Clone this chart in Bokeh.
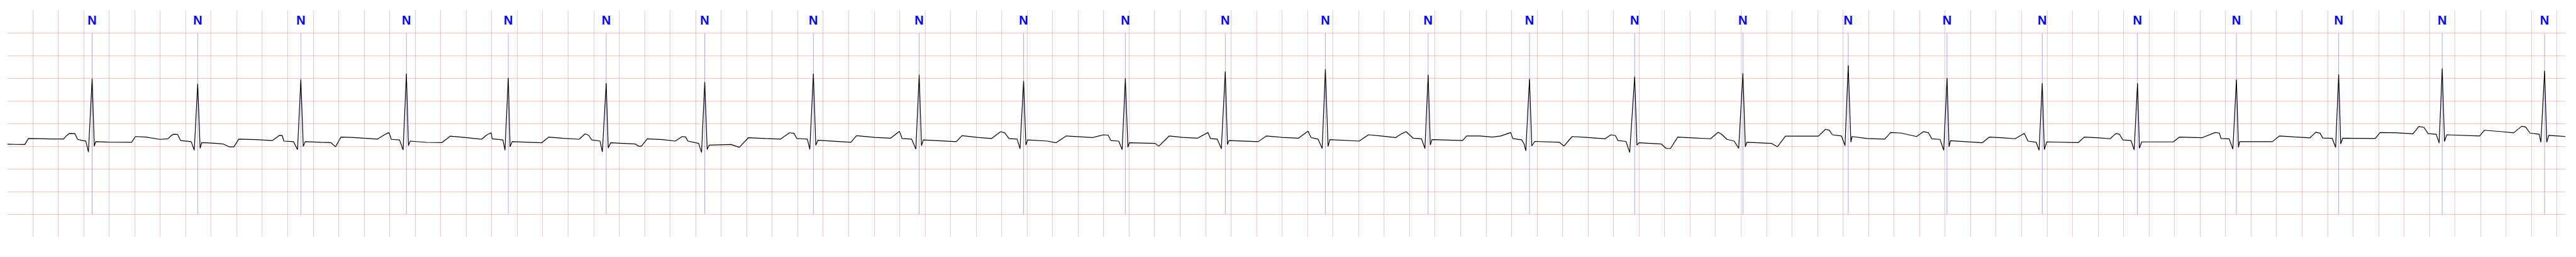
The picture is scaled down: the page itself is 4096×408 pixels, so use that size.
from bokeh.plotting import figure
from bokeh.models import Range1d, Grid, FixedTicker
from bokeh.core.properties import value
from bokeh.embed import file_html
from bokeh.resources import INLINE

# ECG trace (time in s, amplitude in mV), vertices
ecg_t = [
    0.000, 0.069, 0.138, 0.166, 0.257, 0.337, 0.442, 0.466, 0.488, 0.531, 0.552, 0.590, 0.616, 0.637, 0.666, 0.683, 0.694,
    0.794, 0.975, 1.006, 1.089, 1.196, 1.260, 1.287, 1.303, 1.336, 1.360, 1.443, 1.467, 1.494, 1.513, 1.526,
    1.625, 1.692, 1.741, 1.778, 1.816, 1.947, 2.079, 2.114, 2.135, 2.157, 2.170, 2.245, 2.277, 2.303, 2.322, 2.337,
    2.457, 2.538, 2.575, 2.618, 2.699, 2.833, 2.903, 2.954, 2.994, 3.013, 3.077, 3.105, 3.131, 3.147, 3.160,
    3.289, 3.410, 3.474, 3.584, 3.721, 3.759, 3.795, 3.804, 3.888, 3.904, 3.930, 3.944, 3.960,
    4.191, 4.247, 4.363, 4.486, 4.532, 4.559, 4.585, 4.650, 4.668, 4.698, 4.714, 4.733,
    4.926, 4.953, 4.974, 5.020, 5.141, 5.240, 5.294, 5.321, 5.339, 5.423, 5.446, 5.471, 5.490, 5.506,
    5.678, 5.742, 5.814, 5.946, 6.064, 6.136, 6.171, 6.193, 6.276, 6.295, 6.323, 6.342, 6.358,
    6.617, 6.662, 6.805, 6.928, 6.998, 7.019, 7.094, 7.127, 7.153, 7.171, 7.186,
    7.443, 7.489, 7.610, 7.720, 7.792, 7.824, 7.857, 7.921, 7.944, 7.972, 7.990, 8.004,
    8.161, 8.225, 8.307, 8.511, 8.562, 8.600, 8.635, 8.656, 8.718, 8.745, 8.770, 8.790, 8.801,
    9.004, 9.032, 9.115, 9.220, 9.335, 9.418, 9.437, 9.491, 9.523, 9.554, 9.571, 9.583,
    9.813, 9.877, 9.998, 10.127, 10.203, 10.227, 10.282, 10.314, 10.339, 10.360, 10.374,
    10.604, 10.677, 10.776, 10.889, 10.937, 10.972, 11.028, 11.093, 11.120, 11.145, 11.162, 11.175,
    11.415, 11.447, 11.554, 11.648, 11.715, 11.793, 11.809, 11.879, 11.898, 11.911, 11.940, 11.958, 11.981,
    12.174, 12.210, 12.275, 12.386, 12.533, 12.578, 12.614, 12.633, 12.697, 12.726, 12.765, 12.783, 12.800,
    12.974, 13.012, 13.046, 13.103, 13.218, 13.360, 13.420, 13.446, 13.489, 13.545, 13.581, 13.614, 13.633, 13.645,
    13.838, 13.884, 13.948, 14.206, 14.262, 14.291, 14.316, 14.387, 14.415, 14.440, 14.461, 14.470,
    14.587, 14.726, 14.773, 14.855, 14.976, 15.031, 15.070, 15.095, 15.160, 15.189, 15.215, 15.231, 15.242,
    15.491, 15.546, 15.660, 15.749, 15.821, 15.850, 15.914, 15.937, 15.962, 15.978, 15.997,
    16.245, 16.291, 16.411, 16.494, 16.540, 16.567, 16.594, 16.658, 16.683, 16.709, 16.724, 16.742,
    16.990, 17.037, 17.217, 17.318, 17.351, 17.364, 17.428, 17.457, 17.485, 17.501, 17.510,
    17.767, 17.823, 17.941, 18.061, 18.107, 18.142, 18.162, 18.236, 18.263, 18.287, 18.303, 18.318,
    18.574, 18.612, 18.746, 18.870, 18.915, 18.956, 18.988, 19.052, 19.075, 19.099, 19.117, 19.135,
    19.393, 19.430, 19.551, 19.659, 19.723, 19.753, 19.787, 19.860, 19.873, 19.902, 19.919, 19.935, 20.067,
]
ecg_mv = [
    0.050, 0.045, 0.043, 0.176, 0.171, 0.166, 0.166, 0.240, 0.287, 0.282, 0.156, 0.131, 0.120, -0.121, 1.495, 0.005, 0.106,
    0.095, 0.093, 0.219, 0.206, 0.156, 0.169, 0.240, 0.269, 0.265, 0.131, 0.106, -0.083, 1.382, -0.040, 0.086,
    0.070, 0.055, -0.008, -0.008, 0.161, 0.150, 0.130, 0.200, 0.244, 0.240, 0.118, 0.106, -0.070, 1.475, 0.000, 0.106,
    0.093, 0.086, -0.008, 0.206, 0.200, 0.175, 0.161, 0.250, 0.307, 0.156, 0.144, -0.076, 1.604, 0.018, 0.118,
    0.090, 0.086, 0.227, 0.200, 0.160, 0.250, 0.302, 0.169, 0.144, -0.083, 1.511, -0.008, 0.106,
    0.081, 0.206, 0.180, 0.160, 0.277, 0.250, 0.144, 0.118, -0.121, 1.395, -0.033, 0.081,
    0.055, 0.005, 0.005, 0.169, 0.150, 0.118, 0.219, 0.210, 0.118, 0.068, -0.133, 1.420, -0.065, 0.030,
    0.043, -0.020, 0.194, 0.175, 0.161, 0.302, 0.290, 0.176, 0.161, -0.065, 1.604, 0.025, 0.136,
    0.093, 0.237, 0.200, 0.181, 0.332, 0.176, 0.161, -0.058, 1.579, 0.018, 0.144,
    0.106, 0.237, 0.200, 0.175, 0.327, 0.300, 0.176, 0.161, -0.050, 1.445, 0.030, 0.144,
    0.118, 0.081, 0.232, 0.195, 0.232, 0.257, 0.250, 0.131, 0.118, -0.070, 1.500, -0.020, 0.081,
    0.068, 0.005, 0.232, 0.200, 0.181, 0.307, 0.176, 0.161, -0.050, 1.654, 0.043, 0.131,
    0.106, 0.232, 0.200, 0.181, 0.337, 0.194, 0.161, -0.045, 1.704, 0.000, 0.151,
    0.118, 0.257, 0.230, 0.195, 0.280, 0.327, 0.181, 0.169, -0.045, 1.579, 0.030, 0.151,
    0.131, 0.232, 0.230, 0.206, 0.230, 0.307, 0.176, 0.144, 0.055, -0.096, 1.490, 0.010, 0.111,
    0.093, 0.010, 0.219, 0.200, 0.169, 0.257, 0.240, 0.131, 0.111, -0.133, 1.541, 0.030, 0.081,
    0.055, -0.045, -0.045, 0.206, 0.190, 0.170, 0.312, 0.270, 0.156, 0.118, -0.040, 1.616, -0.008, 0.093,
    0.068, -0.008, 0.227, 0.227, 0.378, 0.360, 0.257, 0.232, 0.018, 1.788, 0.093, 0.219,
    0.176, 0.161, 0.307, 0.295, 0.219, 0.327, 0.300, 0.169, 0.156, -0.083, 1.508, -0.008, 0.126,
    0.081, 0.206, 0.190, 0.170, 0.287, 0.118, 0.093, -0.083, 1.395, -0.070, 0.101,
    0.086, 0.206, 0.190, 0.170, 0.287, 0.270, 0.144, 0.131, -0.076, 1.395, -0.040, 0.101,
    0.101, 0.206, 0.194, 0.307, 0.295, 0.176, 0.169, -0.058, 1.475, -0.020, 0.106,
    0.106, 0.232, 0.210, 0.190, 0.315, 0.290, 0.186, 0.180, -0.020, 1.591, 0.055, 0.181,
    0.176, 0.307, 0.300, 0.280, 0.438, 0.420, 0.282, 0.269, 0.076, 1.717, 0.111, 0.257,
    0.232, 0.358, 0.330, 0.300, 0.446, 0.430, 0.295, 0.269, 0.093, 1.667, 0.093, 0.244, 0.219,
]

# Beat annotations
beat_t = [0.666, 1.494, 2.303, 3.131, 3.930, 4.698, 5.471, 6.323, 7.153, 7.972,
          8.770, 9.554, 10.339, 11.145, 11.940, 12.765, 13.614, 14.440, 15.215, 15.962,
          16.709, 17.485, 18.287, 19.099, 19.902]
beat_label = ["N"] * len(beat_t)

p = figure(frame_width=4068, frame_height=360,
           x_range=Range1d(0, 20.067), y_range=Range1d(-2.0, 3.0),
           x_axis_type=None, y_axis_type=None,
           toolbar_location=None, output_backend="svg",
           min_border_left=11, min_border_right=1,
           min_border_top=16, min_border_bottom=16)
p.outline_line_color = None
p.background_fill_color = "white"
p.border_fill_color = "white"

x_ticks = [round(i * 0.2, 1) for i in range(101)]
y_ticks = [-2.0 + 0.5 * i for i in range(10)]
p.add_layout(Grid(dimension=0, ticker=FixedTicker(ticks=x_ticks),
                  grid_line_color="red", grid_line_alpha=0.25, grid_line_width=0.9))
p.add_layout(Grid(dimension=1, ticker=FixedTicker(ticks=y_ticks),
                  grid_line_color="red", grid_line_alpha=0.25, grid_line_width=0.9))

p.segment(x0=beat_t, y0=2.5, x1=beat_t, y1=-1.5,
          line_color="blue", line_alpha=0.5, line_width=0.7)

p.line(ecg_t, ecg_mv, line_color="black", line_width=1.2)

p.text(x=beat_t, y=2.785, text=beat_label,
       text_align="center", text_baseline="alphabetic",
       text_color="blue", text_font=value("Liberation Sans"),
       text_font_style="bold", text_font_size="20px")

open("out.html", "w").write(file_html(p, INLINE))
